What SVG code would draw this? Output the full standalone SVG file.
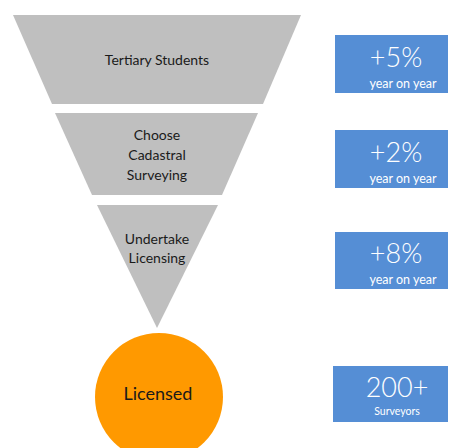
<svg xmlns="http://www.w3.org/2000/svg" width="449" height="448" viewBox="0 0 449 448">
<style>
.f{fill:#BFBFBF}
.b{fill:#558ED5}
.t{font-family:Lato,"Liberation Sans",sans-serif;fill:#1a1a1a;text-anchor:middle;font-size:14px}
.big{font-family:Lato,"Liberation Sans",sans-serif;fill:#fff;text-anchor:middle;font-size:27px;font-weight:300}
.sm{font-family:Lato,"Liberation Sans",sans-serif;fill:#fff;text-anchor:middle;font-size:12.5px}
</style>
<rect width="449" height="448" fill="#fff"/>
<g id="tertiary">
<polygon class="f" points="13,15 301,15 263,104 52,104"/>
<text class="t" x="157" y="65">Tertiary Students</text>
</g>
<g id="choose">
<polygon class="f" points="55,113 258,113 222,195 92,195"/>
<text class="t" x="157" y="140">Choose</text>
<text class="t" x="157" y="160">Cadastral</text>
<text class="t" x="157" y="180">Surveying</text>
</g>
<g id="undertake">
<polygon class="f" points="97,205 218,205 157,328"/>
<text class="t" x="157" y="244">Undertake</text>
<text class="t" x="157" y="263">Licensing</text>
</g>
<g id="licensed">
<circle cx="159" cy="397" r="64" fill="#FF9900"/>
<text class="t" x="158" y="400" style="font-size:18px">Licensed</text>
</g>
<g id="s1">
<rect class="b" x="335" y="35" width="113" height="58"/>
<text class="big" x="396" y="67">+5%</text>
<text class="sm" x="403" y="88">year on year</text>
</g>
<g id="s2">
<rect class="b" x="335" y="130" width="113" height="58"/>
<text class="big" x="396" y="162">+2%</text>
<text class="sm" x="403" y="183">year on year</text>
</g>
<g id="s3">
<rect class="b" x="335" y="232" width="113" height="57"/>
<text class="big" x="396" y="263">+8%</text>
<text class="sm" x="403" y="284">year on year</text>
</g>
<g id="s4">
<rect class="b" x="333" y="366" width="115" height="56"/>
<text class="big" x="397" y="397">200+</text>
<text class="sm" x="397" y="415" style="font-size:10.5px">Surveyors</text>
</g>
<g id="connectors"></g>
</svg>
